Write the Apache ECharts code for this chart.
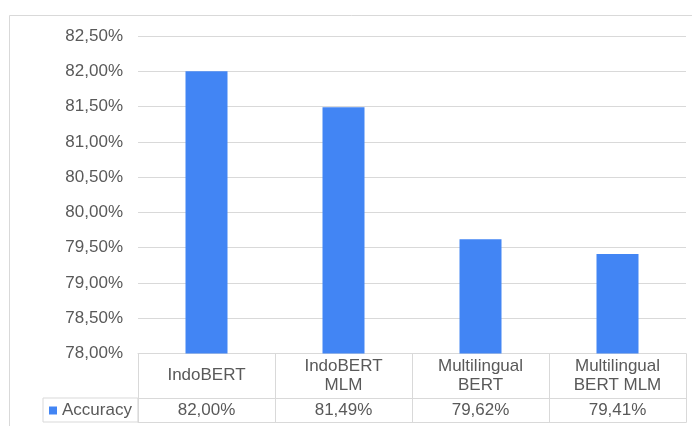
<!DOCTYPE html>
<html>
<head>
<meta charset="utf-8">
<script src="https://cdn.jsdelivr.net/npm/echarts@6/dist/echarts.min.js"></script>
<style>
  html, body { margin: 0; padding: 0; background: #ffffff; }
  #chart { width: 692px; height: 426px; }
</style>
</head>
<body>
<div id="chart"></div>
<script>
// Model names (category axis) and their accuracy in percent
const models = ['IndoBERT', 'IndoBERT\nMLM', 'Multilingual\nBERT', 'Multilingual\nBERT MLM'];
const accuracy = [82.00, 81.49, 79.62, 79.41];
const seriesName = 'Accuracy';

// Axis range
const yMin = 78;
const yMax = 82.5;
const yStep = 0.5;

const fmtPct = v => v.toFixed(2).replace('.', ',') + '%';
const valueRow = accuracy.map(fmtPct);

const textColor = '#595959';
const lineColor = '#d9d9d9';
const fontFamily = '"Liberation Sans", Arial, sans-serif';

const chart = echarts.init(document.getElementById('chart'), null, { renderer: 'canvas' });

chart.setOption({
  backgroundColor: '#ffffff',
  animation: false,
  textStyle: { fontFamily: fontFamily },
  graphic: [{
    type: 'rect',
    silent: true,
    shape: { x: 9.5, y: 15.5, width: 800, height: 600 },
    style: { fill: 'none', stroke: lineColor, lineWidth: 1 }
  }],
  legend: {
    data: [seriesName],
    left: 43,
    top: 398,
    padding: [4, 6, 3, 6],
    borderColor: lineColor,
    borderWidth: 1,
    itemWidth: 8,
    itemHeight: 8,
    icon: 'rect',
    selectedMode: false,
    textStyle: { color: textColor, fontSize: 17, fontFamily: fontFamily }
  },
  grid: {
    left: 138,
    right: 6,
    top: 36,
    bottom: 72.5,
    containLabel: false
  },
  xAxis: [
    {
      // category header row of the table
      type: 'category',
      data: models,
      position: 'bottom',
      boundaryGap: true,
      axisLine: { show: true, lineStyle: { color: lineColor, width: 1 } },
      axisTick: { show: true, length: 69, lineStyle: { color: lineColor, width: 1 } },
      axisLabel: {
        margin: 22,
        verticalAlign: 'middle',
        color: textColor,
        fontSize: 17,
        lineHeight: 19,
        fontFamily: fontFamily,
        interval: 0
      },
      splitLine: { show: false }
    },
    {
      // value row of the table
      type: 'category',
      data: valueRow,
      position: 'bottom',
      offset: 45,
      boundaryGap: true,
      axisLine: { show: true, lineStyle: { color: lineColor, width: 1 } },
      axisTick: { show: false },
      axisLabel: {
        margin: 12,
        verticalAlign: 'middle',
        color: textColor,
        fontSize: 17,
        fontFamily: fontFamily,
        interval: 0
      },
      splitLine: { show: false }
    },
    {
      // bottom edge of the table
      type: 'category',
      data: models,
      position: 'bottom',
      offset: 69,
      axisLine: { show: true, lineStyle: { color: lineColor, width: 1 } },
      axisTick: { show: false },
      axisLabel: { show: false },
      splitLine: { show: false }
    }
  ],
  yAxis: {
    type: 'value',
    min: yMin,
    max: yMax,
    interval: yStep,
    axisLine: { show: false },
    axisTick: { show: false },
    axisLabel: {
      margin: 15,
      color: textColor,
      fontSize: 17,
      fontFamily: fontFamily,
      formatter: fmtPct
    },
    splitLine: { show: true, lineStyle: { color: lineColor, width: 1 } }
  },
  series: [{
    name: seriesName,
    type: 'bar',
    xAxisIndex: 0,
    data: accuracy,
    barWidth: 42,
    itemStyle: { color: '#4285f4' }
  }]
});
</script>
</body>
</html>
